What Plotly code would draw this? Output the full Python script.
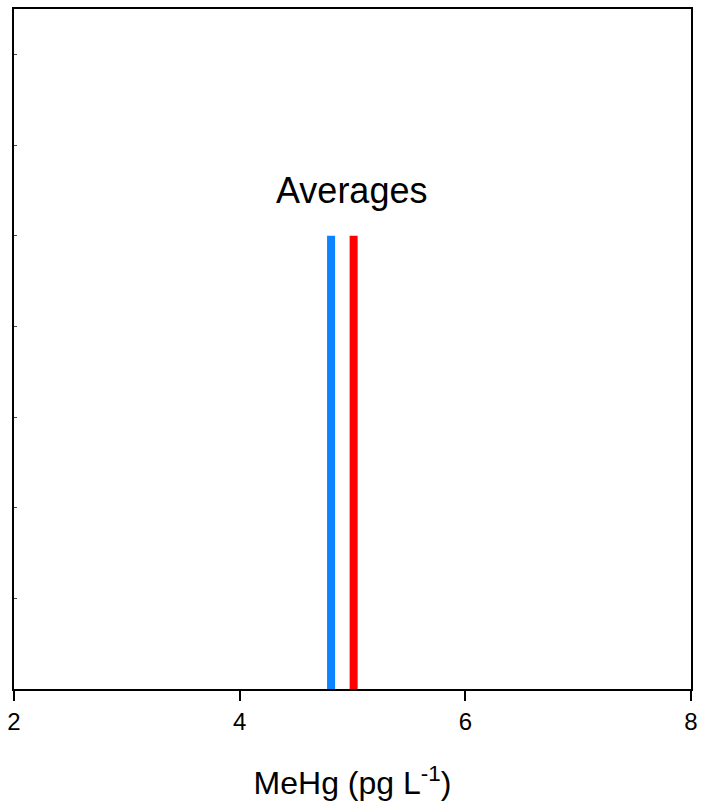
import plotly.graph_objects as go

# Average MeHg concentrations (pg L-1) for the two groups
group_names = ["Group A", "Group B"]
average_values = [4.81, 5.01]
line_colors = ["#0A84FF", "#FF0000"]
marker_height = 5.0

x_ticks = [2, 4, 6, 8]
y_ticks = [0, 1, 2, 3, 4, 5, 6, 7]

fig = go.Figure()
for name, val, col in zip(group_names, average_values, line_colors):
    fig.add_trace(go.Scatter(
        x=[val, val], y=[-0.03, marker_height], mode="lines", name=name,
        line=dict(color=col, width=8), showlegend=False, hoverinfo="x",
        cliponaxis=False,
    ))

fig.add_annotation(
    x=sum(average_values) / len(average_values), y=marker_height,
    xref="x", yref="y", text="Averages", showarrow=False,
    yanchor="bottom", yshift=23, xshift=9,
    font=dict(size=36, color="black", family="Liberation Sans, Arial"),
)

fig.update_xaxes(
    range=[2, 8], tickvals=x_ticks, ticktext=[str(t) for t in x_ticks],
    ticks="outside", ticklen=10, tickwidth=2, tickcolor="black",
    showline=True, linecolor="black", linewidth=2, mirror=True,
    showgrid=False, zeroline=False,
    tickfont=dict(size=24, color="black"),
    title=dict(text="MeHg (pg L<sup>-1</sup>)", font=dict(size=32, color="black"), standoff=38),
)
fig.update_yaxes(
    range=[0, 7.5], tickvals=y_ticks, showticklabels=False,
    ticks="inside", ticklen=3, tickwidth=1, tickcolor="#444",
    showline=True, linecolor="black", linewidth=2, mirror=True,
    showgrid=False, zeroline=False,
)

fig.update_layout(
    width=705, height=808,
    margin=dict(l=13, r=11, t=7, b=119),
    paper_bgcolor="white", plot_bgcolor="white",
    font=dict(family="Liberation Sans, Arial", color="black"),
)

fig.write_html("out.html")
